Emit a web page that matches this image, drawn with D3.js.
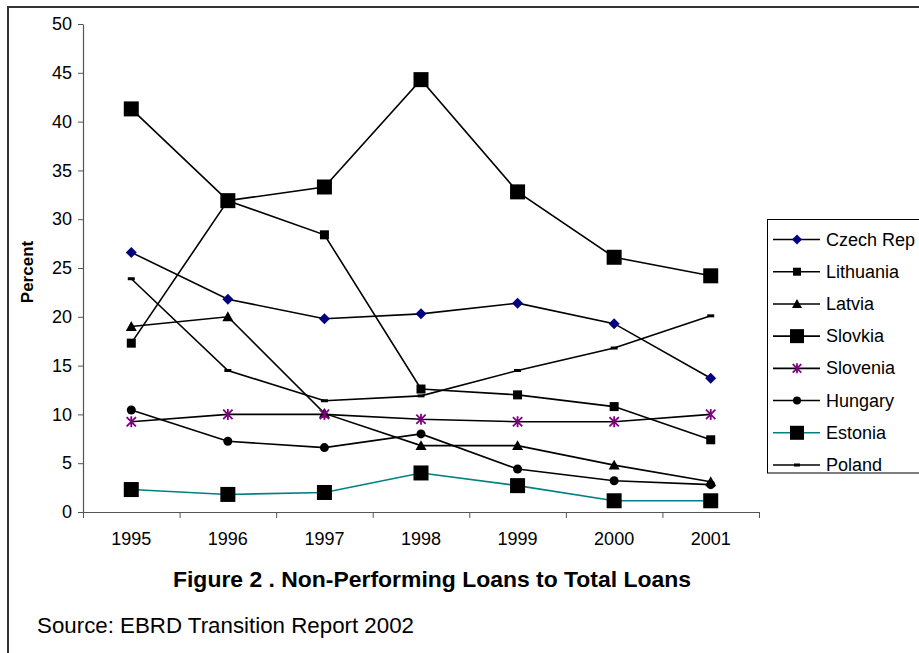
<!DOCTYPE html>
<html>
<head>
<meta charset="utf-8">
<script src="https://cdn.jsdelivr.net/npm/d3@7"></script>
<style>
  html, body { margin: 0; padding: 0; background: #fff; }
  svg { display: block; font-family: Arial, "Liberation Sans", sans-serif; }
</style>
</head>
<body>
<svg id="chart" width="919" height="653"></svg>
<script>
// ---- data ----
const years = ["1995", "1996", "1997", "1998", "1999", "2000", "2001"];
const yTicks = [0, 5, 10, 15, 20, 25, 30, 35, 40, 45, 50];
const czechRep  = [26.6, 21.8, 19.8, 20.3, 21.4, 19.3, 13.7];
const lithuania = [17.3, 31.9, 28.4, 12.6, 12.0, 10.8, 7.4];
const latvia    = [19.0, 20.0, 10.1, 6.8, 6.8, 4.8, 3.1];
const slovkia   = [41.3, 31.9, 33.3, 44.3, 32.8, 26.1, 24.2];
const slovenia  = [9.25, 10.0, 10.0, 9.5, 9.25, 9.25, 10.0];
const hungary   = [10.45, 7.25, 6.6, 8.0, 4.4, 3.2, 2.8];
const estonia   = [2.3, 1.8, 2.0, 4.0, 2.7, 1.15, 1.15];
const poland    = [23.9, 14.5, 11.4, 11.9, 14.5, 16.8, 20.1];
const seriesNames = ["Czech Rep", "Lithuania", "Latvia", "Slovkia", "Slovenia", "Hungary", "Estonia", "Poland"];
const titleText = "Figure 2 . Non-Performing Loans to Total Loans";
const sourceText = "Source: EBRD Transition Report 2002";
const yLabel = "Percent";

const series = [
  {name: seriesNames[0], values: czechRep,  line: "#000", marker: "diamond",  mcolor: "#000080", ms: 11},
  {name: seriesNames[1], values: lithuania, line: "#000", marker: "square",   mcolor: "#000",    ms: 9},
  {name: seriesNames[2], values: latvia,    line: "#000", marker: "triangle", mcolor: "#000",    ms: 11},
  {name: seriesNames[3], values: slovkia,   line: "#000", marker: "square",   mcolor: "#000",    ms: 15},
  {name: seriesNames[4], values: slovenia,  line: "#000", marker: "asterisk", mcolor: "#800080", ms: 11},
  {name: seriesNames[5], values: hungary,   line: "#000", marker: "circle",   mcolor: "#000",    ms: 9},
  {name: seriesNames[6], values: estonia,   line: "#008080", marker: "square", mcolor: "#000",   ms: 15},
  {name: seriesNames[7], values: poland,    line: "#000", marker: "dash",     mcolor: "#000",    ms: 7}
];

const svg = d3.select("#chart");

// outer frame
svg.append("path")
  .attr("d", "M8,660 L8,7 L930,7")
  .attr("fill", "none").attr("stroke", "#333").attr("stroke-width", 2);

const plotL = 83, plotR = 759, plotT = 24, plotB = 512;

const x = d3.scaleBand().domain(years).range([plotL, plotR]).paddingInner(0).paddingOuter(0);
const xc = d => x(d) + x.bandwidth() / 2;
const y = d3.scaleLinear().domain([0, 50]).range([plotB, plotT]);

// y axis
const yAxis = svg.append("g")
  .attr("transform", `translate(${plotL},0)`)
  .call(d3.axisLeft(y).tickValues(yTicks).tickSize(5).tickSizeOuter(0).tickPadding(6));
yAxis.select(".domain").attr("stroke", "#555").attr("stroke-width", 1.2);
yAxis.selectAll(".tick line").attr("stroke", "#555");
yAxis.selectAll("text").attr("font-size", 18).attr("fill", "#000")
  .attr("font-family", "Arial, 'Liberation Sans', sans-serif");

// x axis: boundary ticks
const xb = d3.scaleLinear().domain([0, years.length]).range([plotL, plotR]);
const xAxis = svg.append("g")
  .attr("transform", `translate(0,${plotB})`)
  .call(d3.axisBottom(xb).tickValues(d3.range(years.length + 1)).tickSize(6).tickSizeOuter(0).tickFormat(""));
xAxis.select(".domain").attr("stroke", "#555").attr("stroke-width", 1.2);
xAxis.selectAll(".tick line").attr("stroke", "#555");

// x labels
svg.append("g").selectAll("text").data(years).join("text")
  .attr("x", d => xc(d)).attr("y", 545)
  .attr("text-anchor", "middle").attr("font-size", 18).attr("fill", "#000")
  .text(d => d);

// y label
svg.append("text")
  .attr("transform", "translate(33,272) rotate(-90)")
  .attr("text-anchor", "middle").attr("font-size", 17).attr("font-weight", "bold")
  .text(yLabel);

// marker drawing
function drawMarker(g, type, cx, cy, s, color) {
  const h = s / 2;
  if (type === "square") {
    g.append("rect").attr("x", cx - h).attr("y", cy - h).attr("width", s).attr("height", s).attr("fill", color);
  } else if (type === "diamond") {
    g.append("path").attr("d", `M${cx},${cy - h}L${cx + h},${cy}L${cx},${cy + h}L${cx - h},${cy}Z`).attr("fill", color);
  } else if (type === "triangle") {
    g.append("path").attr("d", `M${cx},${cy - h}L${cx + h},${cy + h * 0.8}L${cx - h},${cy + h * 0.8}Z`).attr("fill", color);
  } else if (type === "circle") {
    g.append("circle").attr("cx", cx).attr("cy", cy).attr("r", h).attr("fill", color);
  } else if (type === "asterisk") {
    const d = h * 0.85;
    g.append("path")
      .attr("d", `M${cx},${cy - h}L${cx},${cy + h}M${cx - d},${cy - d}L${cx + d},${cy + d}M${cx - d},${cy + d}L${cx + d},${cy - d}`)
      .attr("stroke", color).attr("stroke-width", 1.8).attr("fill", "none");
  } else if (type === "dash") {
    g.append("rect").attr("x", cx - h).attr("y", cy - 1.5).attr("width", s).attr("height", 3).attr("fill", color);
  }
}

const line = d3.line().x((d, i) => xc(years[i])).y(d => y(d));

series.forEach(s => {
  const g = svg.append("g");
  g.append("path").attr("d", line(s.values)).attr("fill", "none")
    .attr("stroke", s.line).attr("stroke-width", 1.6);
  s.values.forEach((v, i) => drawMarker(g, s.marker, xc(years[i]), y(v), s.ms, s.mcolor));
});

// legend
const lg = svg.append("g");
lg.append("rect").attr("x", 767.5).attr("y", 219.5).attr("width", 170).attr("height", 253.5)
  .attr("fill", "#fff").attr("stroke", "#000").attr("stroke-width", 1);
const legY = d3.scalePoint().domain(seriesNames).range([239.5, 465]);
series.forEach(s => {
  const cy = legY(s.name);
  lg.append("line").attr("x1", 773).attr("x2", 820).attr("y1", cy).attr("y2", cy)
    .attr("stroke", s.line).attr("stroke-width", 1.6);
  const ms = s.ms >= 15 ? 14 : (s.marker === "square" ? 8 : s.ms - 1);
  drawMarker(lg, s.marker, 797, cy, ms, s.mcolor);
  lg.append("text").attr("x", 826).attr("y", cy + 6).attr("font-size", 18).attr("fill", "#000").text(s.name);
});

// title & source
svg.append("text").attr("x", 173).attr("y", 587)
  .attr("font-size", 22).attr("font-weight", "bold")
  .attr("textLength", 518).attr("lengthAdjust", "spacingAndGlyphs").text(titleText);
svg.append("text").attr("x", 37).attr("y", 633).attr("font-size", 22)
  .attr("textLength", 377).attr("lengthAdjust", "spacingAndGlyphs").text(sourceText);
</script>
</body>
</html>
